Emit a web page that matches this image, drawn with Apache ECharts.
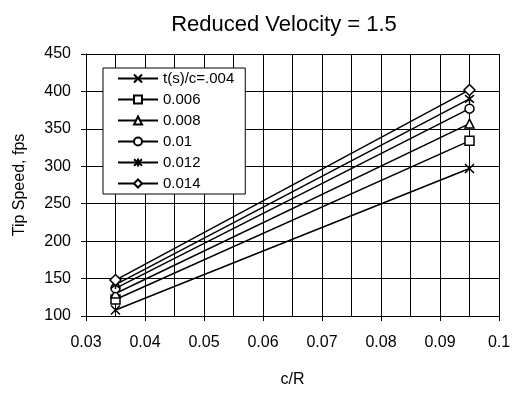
<!DOCTYPE html>
<html>
<head>
<meta charset="utf-8">
<script src="https://cdn.jsdelivr.net/npm/echarts@6/dist/echarts.min.js"></script>
<style>
  html, body { margin: 0; padding: 0; background: #fff; }
  #chart { width: 519px; height: 393px; }
</style>
</head>
<body>
<div id="chart"></div>
<script>
// c/R positions
const xVals = [0.035, 0.095]

// tip speed (fps) per t(s)/c
const seriesNames = ['t(s)/c=.004', '0.006', '0.008', '0.01', '0.012', '0.014']
const tc004 = [108, 297]
const tc006 = [122, 334]
const tc008 = [130, 357]
const tc010 = [137, 377]
const tc012 = [142, 390]
const tc014 = [148, 402]

const crossPath = 'path://M0,0L10,10M10,0L0,10'
const starPath = 'path://M0,0L10,10M10,0L0,10M5,-1L5,11'

const markers = [crossPath, 'rect', 'triangle', 'circle', starPath, 'diamond']
const values = [tc004, tc006, tc008, tc010, tc012, tc014]

const chart = echarts.init(document.getElementById('chart'))
const font = 'Liberation Sans, Arial, sans-serif'

const series = seriesNames.map((name, i) => {
  const isPath = markers[i].startsWith('path://')
  return {
    name: name,
    type: 'line',
    data: xVals.map((x, j) => [x, values[i][j]]),
    symbol: markers[i],
    symbolSize: isPath ? 9 : (markers[i] === 'diamond' ? 11 : 9),
    showSymbol: true,
    lineStyle: { color: '#000', width: 1.5 },
    itemStyle: {
      color: isPath ? 'none' : '#fff',
      borderColor: '#000',
      borderWidth: 1.5,
    },
    emphasis: { disabled: true },
  }
})

const option = {
  animation: false,
  title: {
    text: 'Reduced Velocity = 1.5',
    left: 279,
    textAlign: 'center',
    top: 9,
    textStyle: { fontFamily: font, fontSize: 22, fontWeight: 'normal', color: '#000' },
  },
  grid: { left: 86, right: 20, top: 54, bottom: 71 },
  legend: {
    orient: 'vertical',
    left: 103,
    top: 68,
    itemWidth: 40,
    itemHeight: 10,
    itemGap: 6,
    padding: [3, 11, 3, 14],
    backgroundColor: '#fff',
    borderColor: '#000',
    borderWidth: 1,
    borderRadius: 0,
    textStyle: { fontFamily: font, fontSize: 15, lineHeight: 15, color: '#000' },
    data: seriesNames,
  },
  xAxis: {
    type: 'value',
    min: 0.03,
    max: 0.1,
    interval: 0.01,
    name: 'c/R',
    nameLocation: 'middle',
    nameGap: 56,
    nameTextStyle: { fontFamily: font, fontSize: 16, color: '#000' },
    axisLine: { show: true, onZero: false, lineStyle: { color: '#000', width: 1 } },
    axisTick: { show: true, length: 5, lineStyle: { color: '#000' } },
    axisLabel: {
      fontFamily: font, fontSize: 16, color: '#000', margin: 19,
      formatter: v => String(+v.toFixed(3)),
    },
    splitLine: { show: true, lineStyle: { color: '#000', width: 1 } },
    minorTick: { show: false, splitNumber: 2 },
    minorSplitLine: { show: true, lineStyle: { color: '#000', width: 1 } },
  },
  yAxis: {
    type: 'value',
    min: 100,
    max: 450,
    interval: 50,
    name: 'Tip Speed, fps',
    nameLocation: 'middle',
    nameGap: 58,
    nameTextStyle: { fontFamily: font, fontSize: 16, color: '#000' },
    axisLine: { show: true, lineStyle: { color: '#000', width: 1 } },
    axisTick: { show: true, length: 5, lineStyle: { color: '#000' } },
    axisLabel: { fontFamily: font, fontSize: 16, color: '#000', margin: 15 },
    splitLine: { show: true, lineStyle: { color: '#000', width: 1 } },
  },
  series: series,
}

chart.setOption(option)
</script>
</body>
</html>
